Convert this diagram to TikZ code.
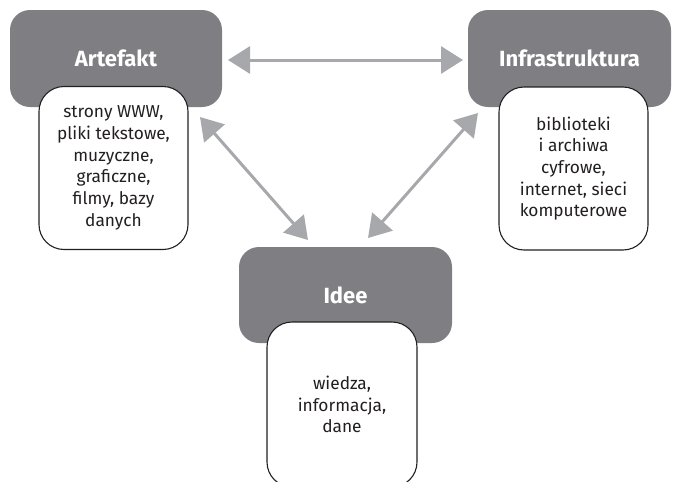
\documentclass[tikz,border=0pt]{standalone}
\usepackage{fontspec}
\setmainfont{Fira Sans}
\usetikzlibrary{arrows.meta}
\definecolor{headgray}{HTML}{7F7F83}
\definecolor{arrowgray}{HTML}{A7A8AC}
\definecolor{inkdark}{HTML}{231F20}
\tikzset{
  headbox/.style={draw=none, fill=headgray, rounded corners=20pt, inner sep=0pt,
    text=white, font=\fontsize{22}{25}\selectfont\bfseries},
  textbox/.style={draw=inkdark, line width=1.1pt, fill=white, rounded corners=25pt,
    inner sep=0pt, align=center, text=inkdark, font=\fontsize{17.3}{21.7}\selectfont},
  link/.style={draw=arrowgray, line width=3pt,
    {Triangle[length=22pt,width=27pt]}-{Triangle[length=22pt,width=27pt]}}
}
\begin{document}
\begin{tikzpicture}[x=1pt,y=-1pt]
  \useasboundingbox (0,0) rectangle (675,482);
  % grey headers
  \node[headbox, minimum width=212pt, minimum height=97pt] (art) at (116,58.5) {Artefakt};
  \node[headbox, minimum width=203pt, minimum height=97pt] (inf) at (569.5,58.5) {Infrastruktura};
  \node[headbox, minimum width=213pt, minimum height=96pt] (ide) at (345.5,295) {Idee};
  % white content boxes
  \node[textbox, minimum width=149pt, minimum height=163pt] (artT) at (113.5,168)
    {strony WWW,\\pliki tekstowe,\\muzyczne,\\graficzne,\\filmy, bazy\\danych};
  \node[textbox, minimum width=149pt, minimum height=163pt] (infT) at (573.5,168.5)
    {biblioteki\\i archiwa\\cyfrowe,\\internet, sieci\\komputerowe};
  \node[textbox, minimum width=150pt, minimum height=165pt] (ideT) at (342,404.5)
    {wiedza,\\informacja,\\dane};
  % arrow ends
  \coordinate (artE) at (228,60);
  \coordinate (infW) at (463,60);
  \coordinate (artSE) at (200,117);
  \coordinate (ideNW) at (308,240);
  \coordinate (infSW) at (478,113);
  \coordinate (ideNE) at (368,238);
  % connectors
  \draw[link] (artE) -- (infW);
  \draw[link] (artSE) -- (ideNW);
  \draw[link] (infSW) -- (ideNE);
\end{tikzpicture}
\end{document}
